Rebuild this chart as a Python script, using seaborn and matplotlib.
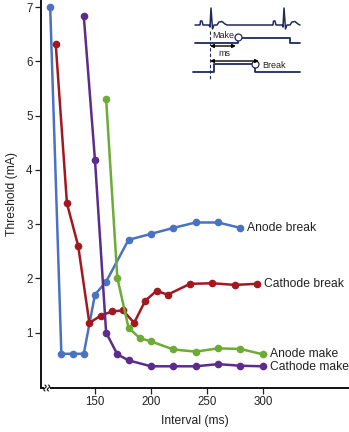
import numpy as np
import pandas as pd
import matplotlib
matplotlib.use("Agg")
import matplotlib.pyplot as plt
import seaborn as sns

# ---------------- data ----------------
anode_break_x = [110, 120, 130, 140, 150, 160, 180, 200, 220, 240, 260, 280]
anode_break_y = [7.0, 0.61, 0.61, 0.61, 1.70, 1.94, 2.71, 2.82, 2.93, 3.03, 3.03, 2.93]

cathode_break_x = [115, 125, 135, 145, 155, 165, 175, 185, 195, 205, 215, 235, 255, 275, 295]
cathode_break_y = [6.31, 3.38, 2.60, 1.18, 1.31, 1.39, 1.41, 1.18, 1.59, 1.77, 1.70, 1.90, 1.91, 1.88, 1.90]

anode_make_x = [160, 170, 180, 190, 200, 220, 240, 260, 280, 300]
anode_make_y = [5.30, 2.01, 1.09, 0.90, 0.84, 0.69, 0.65, 0.71, 0.70, 0.60]

cathode_make_x = [140, 150, 160, 170, 180, 200, 220, 240, 260, 280, 300]
cathode_make_y = [6.84, 4.19, 1.00, 0.60, 0.49, 0.38, 0.38, 0.38, 0.42, 0.39, 0.38]

series_names = ["Anode break", "Cathode break", "Anode make", "Cathode make"]
x_ticks = [150, 200, 250, 300]
y_ticks = [1, 2, 3, 4, 5, 6, 7]

colors = {
    "Anode break": "#4a72c0",
    "Cathode break": "#a3181e",
    "Anode make": "#6cab36",
    "Cathode make": "#5c2c8c",
}

frames = []
for name, xs, ys in [
    ("Anode break", anode_break_x, anode_break_y),
    ("Cathode break", cathode_break_x, cathode_break_y),
    ("Anode make", anode_make_x, anode_make_y),
    ("Cathode make", cathode_make_x, cathode_make_y),
]:
    frames.append(pd.DataFrame({"Interval": xs, "Threshold": ys, "Series": name}))
df = pd.concat(frames, ignore_index=True)

# ---------------- figure ----------------
sns.set_style("ticks")
plt.rcParams["font.family"] = ["Liberation Sans", "DejaVu Sans"]

W, H = 349, 432
fig = plt.figure(figsize=(W / 100, H / 100), dpi=100)
ax = fig.add_axes([41 / W, (H - 388) / H, (349 - 41) / W, 388 / H])

sns.lineplot(
    data=df, x="Interval", y="Threshold", hue="Series", palette=colors,
    hue_order=series_names, marker="o", markersize=5.5, markeredgewidth=0,
    linewidth=1.8, sort=False, estimator=None, ax=ax, legend=False,
)

ax.set_xlim(101.8, 377)
ax.set_ylim(-0.02, 7.13)
ax.set_xticks(x_ticks)
ax.set_yticks(y_ticks)
ax.tick_params(axis="both", labelsize=8.3, length=4, width=0.9, color="#222222",
               labelcolor="#222222", pad=2)
ax.set_xlabel("Interval (ms)", fontsize=8.7, color="#222222", labelpad=5)
ax.set_ylabel("Threshold (mA)", fontsize=8.7, color="#222222", labelpad=6)
for s in ["top", "right"]:
    ax.spines[s].set_visible(False)
ax.spines["left"].set_linewidth(1.4)
ax.spines["left"].set_color("#111111")
ax.spines["bottom"].set_visible(False)

# series labels
label_pos = {
    "Anode break": (286, 2.92),
    "Cathode break": (301, 1.90),
    "Anode make": (306, 0.61),
    "Cathode make": (306, 0.36),
}
for name in series_names:
    x, y = label_pos[name]
    ax.text(x, y, name, fontsize=8.7, color="#222222", va="center", ha="left")

# ---------------- overlay (axis break + inset schematic) ----------------
ov = fig.add_axes([0, 0, 1, 1])
ov.set_xlim(0, W)
ov.set_ylim(H, 0)
ov.axis("off")
ov.patch.set_alpha(0)

k = "#111111"
# bottom axis with break
ov.plot([41, 44], [388, 388], color=k, lw=1.4, solid_capstyle="butt")
ov.plot([50, 349], [388, 388], color=k, lw=1.4, solid_capstyle="butt")
t = np.linspace(0, 1, 30)
for x0 in (45.0, 48.5):
    ov.plot(x0 + 1.2 * np.sin(2 * np.pi * t), 385 + 6 * t, color=k, lw=0.8)

navy = "#1f2a5e"
# ECG trace (schematic)
def beat(x0):
    xs = [x0 - 12, x0 - 11, x0 - 10.5, x0 - 9, x0 - 8, x0 - 2, x0 - 1, x0, x0 + 1.5,
          x0 + 3, x0 + 6, x0 + 8, x0 + 11, x0 + 14, x0 + 16]
    ys = [25, 25, 21, 21, 25, 25, 27, 8, 29, 25, 25, 22, 21.5, 24, 25]
    return xs, ys

xs1, ys1 = beat(211)
xs2, ys2 = beat(284)
ov.plot([195] + xs1 + xs2, [25] + ys1 + ys2, color=navy, lw=1.1)

# make trace
ov.plot([195, 238, 238, 290, 290, 300], [43, 43, 38, 38, 43, 43], color=navy, lw=1.3)
ov.plot([238], [37], marker="o", ms=5, mfc="white", mec=navy, mew=0.9)
ov.text(212, 36, "Make", fontsize=6.5, color="#222222", ha="left", va="center")
# break trace
ov.plot([193, 214, 214, 255, 255, 300], [72, 72, 64, 64, 72, 72], color=navy, lw=1.3)
ov.plot([255], [64], marker="o", ms=5, mfc="white", mec=navy, mew=0.9)
ov.text(262, 65, "Break", fontsize=6.5, color="#222222", ha="left", va="center")
# dashed vertical
ov.plot([210, 210], [31, 81], color=navy, lw=0.8, ls=(0, (3, 2)))
# arrows
ov.annotate("", xy=(236, 46), xytext=(210, 46),
            arrowprops=dict(arrowstyle="<|-|>", color="black", lw=1.0,
                            mutation_scale=5, shrinkA=0, shrinkB=0))
ov.annotate("", xy=(259, 61), xytext=(210, 61),
            arrowprops=dict(arrowstyle="<|-|>", color="black", lw=1.0,
                            mutation_scale=5, shrinkA=0, shrinkB=0))
ov.text(218, 54, "ms", fontsize=6.5, color="#222222", ha="left", va="center")

fig.savefig("out.png", dpi=100)
